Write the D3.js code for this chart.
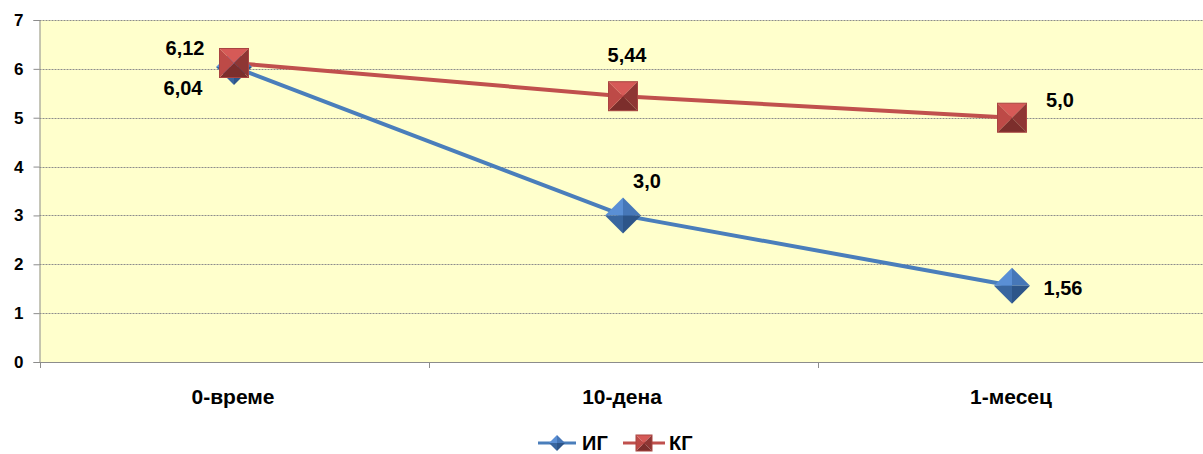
<!DOCTYPE html>
<html>
<head>
<meta charset="utf-8">
<script src="https://cdn.jsdelivr.net/npm/d3@7/dist/d3.min.js"></script>
<style>
  html, body { margin: 0; padding: 0; background: #fff; }
  svg { display: block; font-family: "Liberation Sans", Arial, sans-serif; }
</style>
</head>
<body>
<svg id="chart" width="1203" height="454"></svg>
<script>
// Categories and series
const categories = ["0-време", "10-дена", "1-месец"];
const seriesIG = [6.04, 3.0, 1.56];
const seriesKG = [6.12, 5.44, 5.0];
const labelsIG = ["6,04", "3,0", "1,56"];
const labelsKG = ["6,12", "5,44", "5,0"];
const yTicks = [0, 1, 2, 3, 4, 5, 6, 7];
const seriesNames = ["ИГ", "КГ"];

const svg = d3.select("#chart");
const plotLeft = 39.5, plotRight = 1206.5, plotTop = 20, plotBottom = 362;

const x = d3.scalePoint().domain(categories).range([plotLeft, plotRight]).padding(0.5);
const y = d3.scaleLinear().domain([0, 7]).range([plotBottom, plotTop]);

// plot background
svg.append("rect").attr("x", plotLeft).attr("y", plotTop)
  .attr("width", plotRight - plotLeft).attr("height", plotBottom - plotTop)
  .attr("fill", "#ffffcc");

// gridlines
svg.append("g").selectAll("line").data(yTicks.filter(d => d > 0)).join("line")
  .attr("x1", plotLeft).attr("x2", plotRight)
  .attr("y1", d => Math.round(y(d)) + 0.5).attr("y2", d => Math.round(y(d)) + 0.5)
  .attr("stroke", "#8c8c8c").attr("stroke-width", 1).attr("stroke-dasharray", "2,1");

// y axis
const yAxis = d3.axisLeft(y).tickValues(yTicks).tickSize(6).tickPadding(10).tickFormat(d3.format("d"));
const gy = svg.append("g").attr("transform", `translate(${plotLeft},0)`).call(yAxis);
gy.select(".domain").attr("stroke", "#8c8c8c");
gy.selectAll(".tick line").attr("stroke", "#8c8c8c");
gy.selectAll(".tick text").attr("font-size", 17).attr("font-weight", "bold").attr("fill", "#000")
  .attr("font-family", "Liberation Sans, Arial, sans-serif");

// x axis (ticks on category boundaries)
const step = x.step();
const bounds = d3.range(categories.length + 1).map(i => plotLeft + i * step);
svg.append("line").attr("x1", plotLeft).attr("x2", plotRight)
  .attr("y1", plotBottom + 0.5).attr("y2", plotBottom + 0.5).attr("stroke", "#8c8c8c");
svg.append("g").selectAll("line").data(bounds).join("line")
  .attr("x1", d => Math.round(d) + 0.5).attr("x2", d => Math.round(d) + 0.5)
  .attr("y1", plotBottom).attr("y2", plotBottom + 6).attr("stroke", "#8c8c8c");
svg.append("g").selectAll("text").data(categories).join("text")
  .attr("x", d => x(d) - 1).attr("y", 404).attr("text-anchor", "middle")
  .attr("font-size", 21).attr("font-weight", "bold").text(d => d);

// beveled markers
function diamond(g, cx, cy, r) {
  const T = [cx, cy - r], R = [cx + r, cy], B = [cx, cy + r], L = [cx - r, cy], C = [cx, cy];
  const faces = [[C, L, T, "#5a8fd5"], [C, T, R, "#4677b8"], [C, R, B, "#2d5589"], [C, B, L, "#39669f"]];
  faces.forEach(f => g.append("path").attr("d", d3.line()([f[0], f[1], f[2]]) + "Z").attr("fill", f[3]));
}
function square(g, cx, cy, h) {
  const TL = [cx - h, cy - h], TR = [cx + h, cy - h], BR = [cx + h, cy + h], BL = [cx - h, cy + h], C = [cx, cy];
  const faces = [[C, TL, TR, "#d65a57"], [C, TR, BR, "#8e3634"], [C, BR, BL, "#7c2e2c"], [C, BL, TL, "#bd4a47"]];
  faces.forEach(f => g.append("path").attr("d", d3.line()([f[0], f[1], f[2]]) + "Z").attr("fill", f[3]));
  g.append("rect").attr("x", cx - h).attr("y", cy - h).attr("width", 2 * h).attr("height", 2 * h)
    .attr("fill", "none").attr("stroke", "#a94441").attr("stroke-width", 1);
}

const line = d3.line().x((d, i) => x(categories[i])).y(d => y(d));

// ИГ series
svg.append("path").datum(seriesIG).attr("d", line).attr("fill", "none")
  .attr("stroke", "#4a7ebb").attr("stroke-width", 4);
// КГ series
svg.append("path").datum(seriesKG).attr("d", line).attr("fill", "none")
  .attr("stroke", "#c0504d").attr("stroke-width", 4);

const mIG = svg.append("g");
seriesIG.forEach((v, i) => diamond(mIG, x(categories[i]), y(v), 18));
const mKG = svg.append("g");
seriesKG.forEach((v, i) => square(mKG, x(categories[i]), y(v), 14.5));

// value labels
const labelStyle = s => s.attr("font-size", 20).attr("font-weight", "bold").attr("fill", "#000").attr("text-anchor", "middle");
const offIG = [[-51, 28], [24, -27], [51, 9]];
const offKG = [[-49, -8], [4, -34], [48, -11]];
svg.append("g").selectAll("text").data(seriesIG).join("text")
  .attr("x", (d, i) => x(categories[i]) + offIG[i][0])
  .attr("y", (d, i) => y(d) + offIG[i][1])
  .call(labelStyle).text((d, i) => labelsIG[i]);
svg.append("g").selectAll("text").data(seriesKG).join("text")
  .attr("x", (d, i) => x(categories[i]) + offKG[i][0])
  .attr("y", (d, i) => y(d) + offKG[i][1])
  .call(labelStyle).text((d, i) => labelsKG[i]);

// legend
const lg = svg.append("g");
const ly = 443;
lg.append("line").attr("x1", 538).attr("x2", 576).attr("y1", ly).attr("y2", ly).attr("stroke", "#4a7ebb").attr("stroke-width", 3);
diamond(lg, 557, ly, 8);
lg.append("text").attr("x", 582).attr("y", 450).attr("font-size", 20).attr("font-weight", "bold").text(seriesNames[0]);
lg.append("line").attr("x1", 623).attr("x2", 665).attr("y1", ly).attr("y2", ly).attr("stroke", "#c0504d").attr("stroke-width", 3);
square(lg, 644, ly, 8);
lg.append("text").attr("x", 669).attr("y", 450).attr("font-size", 20).attr("font-weight", "bold").text(seriesNames[1]);
</script>
</body>
</html>
